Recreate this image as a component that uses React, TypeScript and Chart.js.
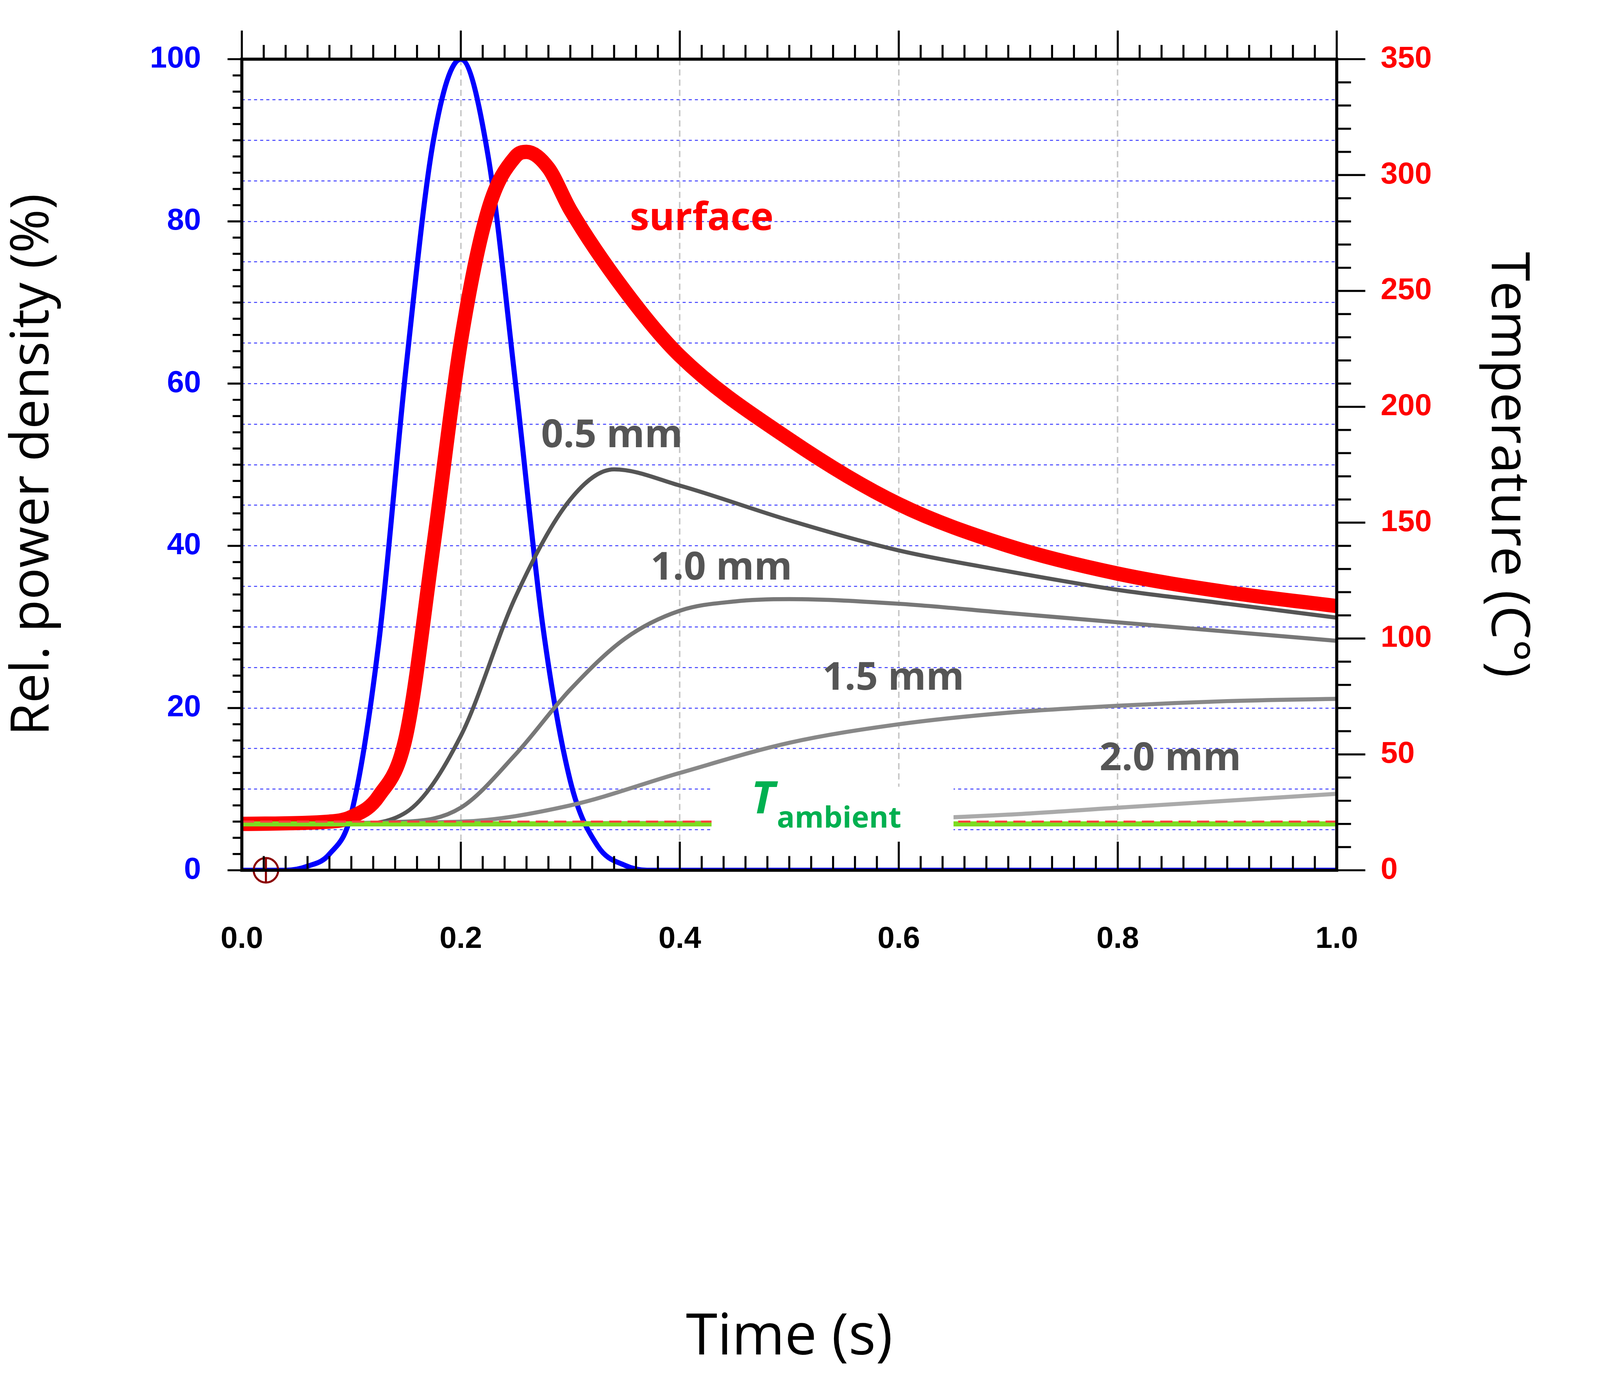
import React, { useEffect, useRef } from "react";
import { Chart, registerables } from "chart.js";
Chart.register(...registerables);

const powerT = [0, 0.04, 0.06, 0.08, 0.1, 0.125, 0.15, 0.175, 0.2, 0.225, 0.25, 0.275, 0.3, 0.325, 0.35, 0.37, 0.4, 1.0];
const powerV = [0, 0, 0.5, 2, 7, 28, 62, 90, 100, 88, 60, 30, 11, 3, 0.6, 0, 0, 0];

const surfT = [0, 0.08, 0.1, 0.125, 0.15, 0.175, 0.2, 0.225, 0.25, 0.26, 0.28, 0.3, 0.35, 0.4, 0.5, 0.6, 0.7, 0.8, 0.9, 1.0];
const surfV = [20, 21, 23, 32, 58, 140, 228, 285, 308, 310, 303, 285, 250, 222, 186, 158, 140, 128, 120, 114];

const d05T = [0, 0.1, 0.15, 0.2, 0.25, 0.3, 0.34, 0.4, 0.5, 0.6, 0.7, 0.8, 0.9, 1.0];
const d05V = [20, 20, 25, 58, 118, 160, 173, 166, 151, 138, 129, 121, 115, 109];
const d10T = [0, 0.15, 0.2, 0.25, 0.3, 0.35, 0.4, 0.45, 0.5, 0.6, 0.7, 0.8, 0.9, 1.0];
const d10V = [20, 21, 27, 50, 78, 100, 112, 116, 117, 115, 111, 107, 103, 99];
const d15T = [0, 0.2, 0.3, 0.4, 0.5, 0.6, 0.7, 0.8, 0.9, 1.0];
const d15V = [20, 21, 28, 42, 55, 63, 68, 71, 73, 74];
const d20T = [0, 0.4, 0.6, 0.7, 0.8, 0.9, 1.0];
const d20V = [20, 20.5, 22, 24, 27, 30, 33];

const ambT = [0, 0.43, 0.54, 0.65, 1.0];
const ambV: (number | null)[] = [20, 20, null, 20, 20];

const leftTicks = [0, 20, 40, 60, 80, 100];
const rightTicks = [0, 50, 100, 150, 200, 250, 300, 350];
const xTicks = [0, 0.2, 0.4, 0.6, 0.8, 1.0];

const pts = (t: number[], v: (number | null)[]) => t.map((x, i) => ({ x, y: v[i] }));

export default function App() {
  const ref = useRef<HTMLCanvasElement>(null);
  const W = window.innerWidth;
  const H = window.innerHeight;
  const u = W / 1568;
  useEffect(() => {
    document.body.style.margin = "0";
    const deco = {
      id: "deco",
      afterDatasetsDraw(c: any) {
        const ctx = c.ctx;
        const { x, y, y2 } = c.scales;
        const a = c.chartArea;
        ctx.save();
        const lab = (t: string, tx: number, ty: number, col: string) => {
          ctx.fillStyle = col;
          ctx.font = `bold ${38 * u}px 'Open Sans'`;
          ctx.textAlign = "center";
          ctx.textBaseline = "middle";
          ctx.fillText(t, x.getPixelForValue(tx), y.getPixelForValue(ty));
        };
        lab("surface", 0.42, 80.3, "#ff0000");
        lab("0.5 mm", 0.338, 53.5, "#555555");
        lab("1.0 mm", 0.438, 37.2, "#555555");
        lab("1.5 mm", 0.595, 23.6, "#555555");
        lab("2.0 mm", 0.848, 13.7, "#555555");
        const bx1 = x.getPixelForValue(0.429), bx2 = x.getPixelForValue(0.65);
        const by1 = y.getPixelForValue(10.3), by2 = y.getPixelForValue(2.3);
        ctx.fillStyle = "#fff";
        ctx.fillRect(bx1, by1, bx2 - bx1, by2 - by1);
        ctx.fillStyle = "#00b050";
        ctx.textBaseline = "alphabetic";
        ctx.textAlign = "left";
        const base = y.getPixelForValue(7.0);
        ctx.font = `italic bold ${44 * u}px 'Open Sans'`;
        const tx0 = x.getPixelForValue(0.465);
        ctx.fillText("T", tx0, base);
        const tw = ctx.measureText("T").width;
        ctx.font = `bold ${29 * u}px 'Open Sans'`;
        ctx.fillText("ambient", tx0 + tw + 2 * u, base + 14 * u);
        const mx = x.getPixelForValue(0.022), my = y.getPixelForValue(0);
        ctx.strokeStyle = "#8b0000";
        ctx.lineWidth = 2 * u;
        ctx.beginPath(); ctx.arc(mx, my, 12 * u, 0, Math.PI * 2); ctx.stroke();
        ctx.beginPath(); ctx.moveTo(mx - 12 * u, my); ctx.lineTo(mx + 12 * u, my);
        ctx.moveTo(mx, my - 12 * u); ctx.lineTo(mx, my + 12 * u); ctx.stroke();
        ctx.strokeStyle = "#000";
        ctx.lineWidth = 3 * u;
        ctx.strokeRect(a.left, a.top, a.right - a.left, a.bottom - a.top);
        ctx.lineWidth = 2 * u;
        ctx.beginPath();
        for (let i = 0; i <= 50; i++) {
          const px = x.getPixelForValue(i * 0.02);
          const L = (i % 10 === 0 ? 28 : 14) * u;
          ctx.moveTo(px, a.top); ctx.lineTo(px, a.top - L);
          ctx.moveTo(px, a.bottom); ctx.lineTo(px, a.bottom - L);
        }
        for (let i = 0; i <= 50; i++) {
          const py = y.getPixelForValue(i * 2);
          const L = (i % 10 === 0 ? 14 : 9) * u;
          ctx.moveTo(a.left, py); ctx.lineTo(a.left - L, py);
        }
        for (let i = 0; i <= 35; i++) {
          const py = y2.getPixelForValue(i * 10);
          const L = (i % 5 === 0 ? 28 : 14) * u;
          ctx.moveTo(a.right, py); ctx.lineTo(a.right + L, py);
        }
        ctx.stroke();
        ctx.restore();
      },
    };
    const line = (d: any, col: string, w: number, extra: any = {}) => ({
      data: d, borderColor: col, borderWidth: w * u, pointRadius: 0, fill: false,
      cubicInterpolationMode: "monotone", yAxisID: "y2", ...extra,
    });
    const tickFont = { size: 30 * u, family: "'Liberation Sans'", weight: "bold" };
    const chart = new Chart(ref.current!, {
      type: "line",
      data: {
        datasets: [
          line(pts([0, 1], [21, 21]), "#ff4040", 2, { borderDash: [12 * u, 6 * u] }),
          line(pts(ambT, ambV), "#7cdc20", 5, { spanGaps: false }),
          line(pts(d20T, d20V), "#aaaaaa", 4),
          line(pts(d15T, d15V), "#888888", 4),
          line(pts(d10T, d10V), "#777777", 4),
          line(pts(d05T, d05V), "#555555", 4),
          line(pts(surfT, surfV), "#ff0000", 14, { borderCapStyle: "round" }),
          line(pts(powerT, powerV), "#0000ff", 5, { yAxisID: "y" }),
        ] as any,
      },
      plugins: [deco],
      options: {
        animation: false,
        responsive: false,
        layout: { padding: { top: 44 * u } },
        plugins: { legend: { display: false }, tooltip: { enabled: false } },
        scales: {
          x: {
            type: "linear", min: 0, max: 1,
            afterFit: (s: any) => { s.height = H - 853 * u; },
            afterBuildTicks: (s: any) => { s.ticks = xTicks.map((v) => ({ value: v })); },
            ticks: { color: "#000", font: tickFont, padding: 50 * u, callback: (v: any) => Number(v).toFixed(1) },
            grid: { color: "#c8c8c8", lineWidth: 1.5 * u, drawTicks: false },
            border: { display: false, dash: [6 * u, 4 * u] },
            title: { display: true, text: "Time (s)", font: { size: 56 * u, family: "'Open Sans'" }, color: "#000", padding: { top: 40 * u } },
          },
          y: {
            type: "linear", position: "left", min: 0, max: 100,
            afterFit: (s: any) => { s.width = 237 * u; },
            afterBuildTicks: (s: any) => { s.ticks = Array.from({ length: 41 }, (_, i) => ({ value: i * 2.5 })); },
            ticks: { color: "#0000ff", font: tickFont, padding: 40 * u, callback: (v: any) => (leftTicks.includes(Number(v)) ? String(v) : "") },
            grid: { color: "#4040ff", lineWidth: 1 * u, drawTicks: false },
            border: { display: false, dash: [3 * u, 3 * u] },
            title: { display: true, text: "Rel. power density (%)", font: { size: 52 * u, family: "'Open Sans'" }, color: "#000", padding: { bottom: 45 * u } },
          },
          y2: {
            type: "linear", position: "right", min: 0, max: 350,
            afterFit: (s: any) => { s.width = W - 1310 * u; },
            afterBuildTicks: (s: any) => { s.ticks = rightTicks.map((v) => ({ value: v })); },
            ticks: { color: "#ff0000", font: tickFont, padding: 40 * u },
            grid: { display: false },
            border: { display: false },
            title: { display: true, text: "Temperature (C°)", font: { size: 52 * u, family: "'Open Sans'" }, color: "#000", padding: { top: 60 * u } },
          },
        },
      } as any,
    });
    return () => chart.destroy();
  }, []);
  return <canvas ref={ref} width={W} height={H} style={{ display: "block", width: W, height: H }} />;
}
